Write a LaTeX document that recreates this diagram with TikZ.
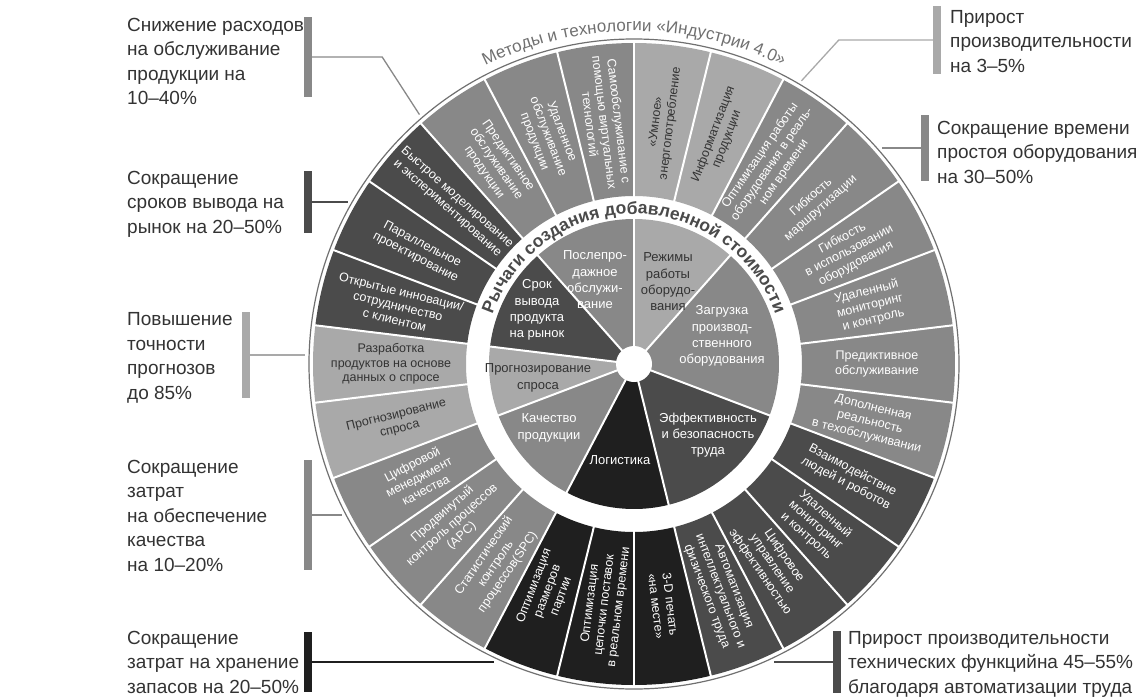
\documentclass[tikz,border=0pt]{standalone}
\usepackage{fontspec}
\setmainfont{Liberation Sans}
\usepackage{tikz}
\usetikzlibrary{calc}
\usetikzlibrary{decorations.text}

\definecolor{lvLight}{HTML}{A9A9A9}
\definecolor{lvMid}{HTML}{888888}
\definecolor{lvDark}{HTML}{4B4B4B}
\definecolor{lvBlack}{HTML}{1F1F1F}
\definecolor{txtDark}{HTML}{333333}
\definecolor{rimDark}{HTML}{4A4A4A}
\definecolor{rimGrey}{HTML}{707070}

\tikzset{
	effect/.style={align=left, anchor=base west, inner sep=0pt, text=txtDark, font=\fontsize{19}{24.5}\selectfont},
	effbar/.style={rectangle, minimum width=8pt, inner sep=0pt},
	effline/.style={line width=1.3pt},
	lever/.style={align=center, inner sep=0pt, font=\fontsize{13}{16.3}\selectfont},
	method/.style={align=center, inner sep=0pt, font=\fontsize{12.5}{14.5}\selectfont},
}

\begin{document}
\begin{tikzpicture}[x=1pt, y=1pt]
	\useasboundingbox (-634,-333) rectangle (513,364);

	% outer ring: methods
	\foreach \k/\col/\tcol/\txt in {1/lvLight/txtDark/{«Умное»\\энергопотребление},
		2/lvLight/txtDark/{Информатизация\\продукции},
		3/lvMid/white/{Оптимизация работы\\оборудования в реаль-\\ном времени},
		4/lvMid/white/{Гибкость\\маршрутизации},
		5/lvMid/white/{Гибкость\\в использовании\\оборудования},
		6/lvMid/white/{Удаленный\\мониторинг\\и контроль},
		7/lvMid/white/{Предиктивное\\обслуживание},
		8/lvMid/white/{Дополненная\\реальность\\в техобслуживании},
		9/lvDark/white/{Взаимодействие\\людей и роботов},
		10/lvDark/white/{Удаленный\\мониторинг\\и контроль},
		11/lvDark/white/{Цифровое\\управление\\эффективностью},
		12/lvDark/white/{Автоматизация\\интеллектуального и\\физического труда},
		13/lvBlack/white/{3-D печать\\«на месте»},
		14/lvBlack/white/{Оптимизация\\цепочки поставок\\в реальном времени},
		15/lvBlack/white/{Оптимизация\\размеров\\партии},
		16/lvMid/white/{Статистический\\контроль\\процессов(SPC)},
		17/lvMid/white/{Продвинутый\\контроль процессов\\(APC)},
		18/lvMid/white/{Цифровой\\менеджмент\\качества},
		19/lvLight/txtDark/{Прогнозирование\\спроса},
		20/lvLight/txtDark/{Разработка\\продуктов на основе\\данных о спросе},
		21/lvDark/white/{Открытые инновации/\\сотрудничество\\с клиентом},
		22/lvDark/white/{Параллельное\\проектирование},
		23/lvDark/white/{Быстрое моделирование\\и экспериментирование},
		24/lvMid/white/{Предиктивное\\обслуживание\\продукции},
		25/lvMid/white/{Удаленное\\обслуживание\\продукции},
		26/lvMid/white/{Самообслуживание с\\помощью виртуальных\\технологий}}{
		\pgfmathsetmacro\aS{90-(\k-1)*360/26}
		\pgfmathsetmacro\aE{90-\k*360/26}
		\pgfmathsetmacro\aM{90-(\k-0.5)*360/26}
		\pgfmathsetmacro\rot{\k>13 ? \aM+180 : \aM}
		\fill[\col] (\aS:168) arc[start angle=\aS, end angle=\aE, radius=168] -- (\aE:321) arc[start angle=\aE, end angle=\aS, radius=321] -- cycle;
		\node[method, text=\tcol, rotate=\rot] (m\k) at (\aM:243) {\txt};
	}
	\foreach \k in {0,...,25}
		\draw[white, line width=2pt] ({90-\k*360/26}:166) -- ({90-\k*360/26}:322);
	\draw[rimGrey, line width=1.2pt] (0,0) circle (325);

	% inner pie: levers
	\foreach \aS/\aE/\col in {90/131.54/lvMid, 131.54/173.08/lvDark, 173.08/200.77/lvLight, 200.77/242.31/lvMid, 242.31/283.85/lvBlack, 283.85/339.23/lvDark, 339.23/408.46/lvMid, 48.46/90/lvLight}
		\fill[\col] (0,0) -- (\aS:145) arc[start angle=\aS, end angle=\aE, radius=145] -- cycle;
	\foreach \a in {90, 131.54, 173.08, 200.77, 242.31, 283.85, 339.23, 48.46}
		\draw[white, line width=2pt] (0,0) -- (\a:146);
	\fill[white] (0,0) circle (18);

	\node[lever, text=white] (service) at (-39,84) {Послепро-\\дажное\\обслужи-\\вание};
	\node[lever, text=txtDark] (modes) at (34,82) {Режимы\\работы\\оборудо-\\вания};
	\node[lever, text=white] (load) at (88,28) {Загрузка\\производ-\\ственного\\оборудования};
	\node[lever, text=white] (labour) at (74,-71) {Эффективность\\и безопасность\\труда};
	\node[lever, text=white] (logist) at (-14,-96) {Логистика};
	\node[lever, text=white] (quality) at (-85,-64) {Качество\\продукции};
	\node[lever, text=txtDark] (demand) at (-96,-14) {Прогнозирование\\спроса};
	\node[lever, text=white] (market) at (-97,54) {Срок\\вывода\\продукта\\на рынок};

	\path[decorate, decoration={text along path, text align=center, text color=rimDark,
		text={|\fontsize{17.5}{17.5}\selectfont\bfseries|Рычаги создания добавленной стоимости}}]
		(168:150) arc[start angle=168, end angle=12, radius=150];
	\path[decorate, decoration={text along path, text align=center, text color=rimGrey,
		text={|\fontsize{17}{17}\selectfont|Методы и технологии «Индустрии 4.0»}}]
		(130:333) arc[start angle=130, end angle=50, radius=333];

	% effects
	\node[effbar, fill=lvMid, minimum height=80pt] (barA) at (-326,307) {};
	\node[effbar, fill=lvDark, minimum height=62pt] (barB) at (-326,162) {};
	\node[effbar, fill=lvLight, minimum height=86pt] (barC) at (-388,9) {};
	\node[effbar, fill=lvMid, minimum height=110pt] (barD) at (-326,-151) {};
	\node[effbar, fill=lvBlack, minimum height=60pt] (barE) at (-326,-298) {};
	\node[effbar, fill=lvLight, minimum height=68pt] (barF) at (303,324) {};
	\node[effbar, fill=lvMid, minimum height=66pt] (barG) at (291,216) {};
	\node[effbar, fill=lvDark, minimum height=62pt] (barH) at (203,-298) {};

	\coordinate (kA) at (130.7:329);
	\coordinate (kB) at (150.5:329);
	\coordinate (kC) at (178.4:329);
	\coordinate (kD) at (207.3:329);
	\coordinate (kE) at (244.9:329);
	\coordinate (kF) at (59.4:329);
	\coordinate (kG) at (41:329);
	\coordinate (kH) at (-64.9:329);

	\draw[effline, lvMid] (barA.east) -- ++(70,0) -- (kA);
	\draw[effline, lvDark] (barB.east) -- (barB.east -| kB);
	\draw[effline, lvLight] (barC.east) -- (barC.east -| kC);
	\draw[effline, lvMid] (barD.east) -- (barD.east -| kD);
	\draw[effline, lvBlack] (barE.east) -- (barE.east -| kE);
	\draw[effline, lvLight] (barF.west) -- ++(-94,0) -- (kF);
	\draw[effline, lvMid] (barG.west) -- (barG.west -| kG);
	\draw[effline, lvDark] (barH.west) -- (barH.west -| kH);

	\node[effect] (effA) at (-507,259.5) {Снижение расходов\\на обслуживание\\продукции на\\10–40\%};
	\node[effect] (effB) at (-507,131) {Сокращение\\сроков вывода на\\рынок на 20–50\%};
	\node[effect] (effC) at (-507,-35) {Повышение\\точности\\прогнозов\\до 85\%};
	\node[effect] (effD) at (-507,-207) {Сокращение\\затрат\\на обеспечение\\качества\\на 10–20\%};
	\node[effect] (effE) at (-507,-329) {Сокращение\\затрат на хранение\\запасов на 20–50\%};
	\node[effect] (effF) at (316,292) {Прирост\\производительности\\на 3–5\%};
	\node[effect] (effG) at (303,181) {Сокращение времени\\простоя оборудования\\на 30–50\%};
	\node[effect] (effH) at (214,-329) {Прирост производительности\\технических функцийна 45–55\%\\благодаря автоматизации труда};
\end{tikzpicture}
\end{document}
